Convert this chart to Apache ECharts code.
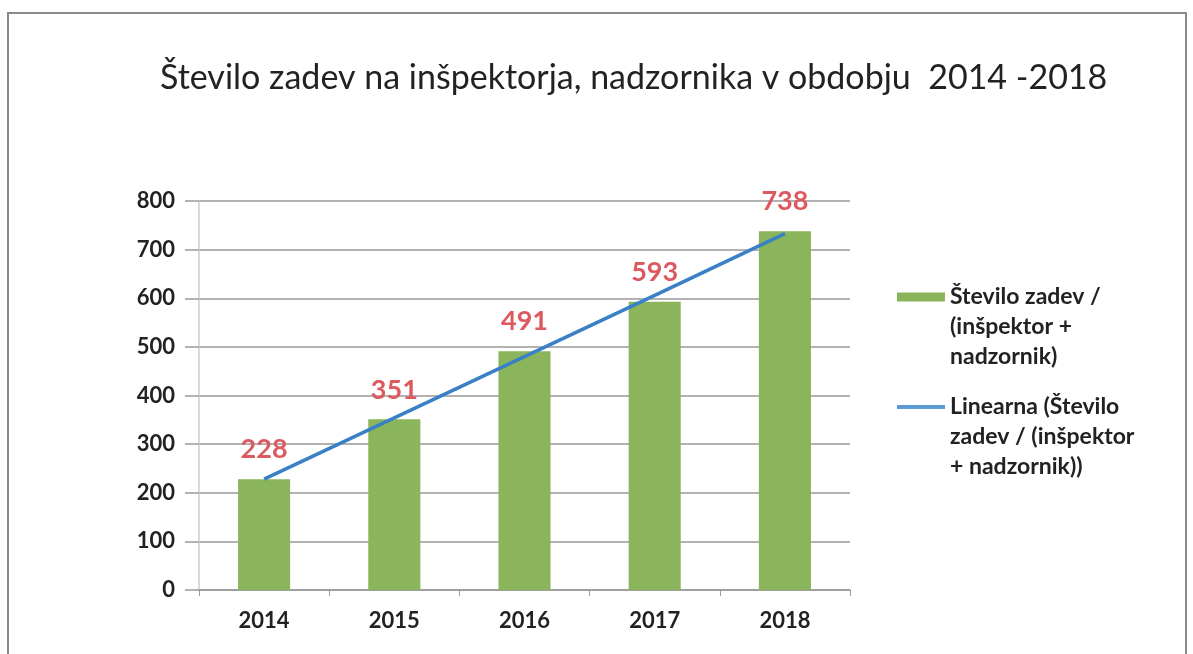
<!DOCTYPE html>
<html>
<head>
<meta charset="utf-8">
<script src="https://cdn.jsdelivr.net/npm/echarts@6/dist/echarts.min.js"></script>
<style>
  html, body { margin: 0; padding: 0; background: #fff; }
  #chart { width: 1193px; height: 654px; }
</style>
</head>
<body>
<div id="chart"></div>
<script>
// data
const years = ['2014', '2015', '2016', '2017', '2018'];
const caseCounts = [228, 351, 491, 593, 738];
const trendValues = [228, 354, 480, 606, 733];
const yTicks = { min: 0, max: 800, interval: 100 };

const barName = 'Število zadev /\n(inšpektor +\nnadzornik)';
const trendName = 'Linearna (Število\nzadev / (inšpektor\n+ nadzornik))';

const font = 'Lato, "Open Sans", sans-serif';
const chart = echarts.init(document.getElementById('chart'));

// two blank lines on top so the swatch sits next to the first text line
const legendText = {
  fontFamily: font,
  fontSize: 23,
  fontWeight: 'bold',
  color: '#222',
  lineHeight: 30
};
const pushDown = name => '\n\n' + name;

chart.setOption({
  animation: false,
  title: {
    text: 'Število zadev na inšpektorja, nadzornika v obdobju  2014 -2018',
    left: 155,
    top: 56,
    textStyle: { fontFamily: font, fontSize: 34, fontWeight: 'normal', color: '#222' }
  },
  graphic: [{
    type: 'rect',
    shape: { x: 8, y: 13, width: 1178, height: 700 },
    style: { fill: 'none', stroke: '#8a8a8a', lineWidth: 2 },
    silent: true
  }],
  legend: [
    {
      data: [{ name: barName, icon: 'rect' }],
      orient: 'vertical',
      left: 897,
      top: 222,
      padding: 0,
      itemWidth: 48,
      itemHeight: 9,
      formatter: pushDown,
      textStyle: legendText
    },
    {
      data: [{ name: trendName, icon: 'rect' }],
      orient: 'vertical',
      left: 897,
      top: 332,
      padding: 0,
      itemWidth: 48,
      itemHeight: 4,
      formatter: pushDown,
      textStyle: legendText
    }
  ],
  grid: { left: 199, right: 343, top: 201, bottom: 64 },
  xAxis: {
    type: 'category',
    data: years,
    axisLine: { lineStyle: { color: '#999', width: 1.5 } },
    axisTick: { show: true, length: 6, lineStyle: { color: '#999' } },
    axisLabel: { fontFamily: font, fontSize: 22, fontWeight: 'bold', color: '#222', margin: 20 }
  },
  yAxis: {
    type: 'value',
    min: yTicks.min,
    max: yTicks.max,
    interval: yTicks.interval,
    axisLine: { show: true, lineStyle: { color: '#ccc', width: 1.5 } },
    axisTick: { show: true, length: 14, lineStyle: { color: '#999', width: 1.5 } },
    axisLabel: { fontFamily: font, fontSize: 22, fontWeight: 'bold', color: '#222', margin: 24 },
    splitLine: { lineStyle: { color: '#999', width: 1.5 } }
  },
  series: [
    {
      name: barName,
      type: 'bar',
      data: caseCounts,
      barWidth: '40%',
      itemStyle: { color: '#8ab55a' },
      label: {
        show: true,
        position: 'top',
        distance: 16,
        fontFamily: font,
        fontSize: 27,
        fontWeight: 'bold',
        color: '#dc5a5f'
      },
      z: 2
    },
    {
      name: trendName,
      type: 'line',
      data: trendValues,
      symbol: 'none',
      lineStyle: { color: '#3a80c6', width: 3.5 },
      itemStyle: { color: '#5b9bd5' },
      z: 3
    }
  ]
});
</script>
</body>
</html>
